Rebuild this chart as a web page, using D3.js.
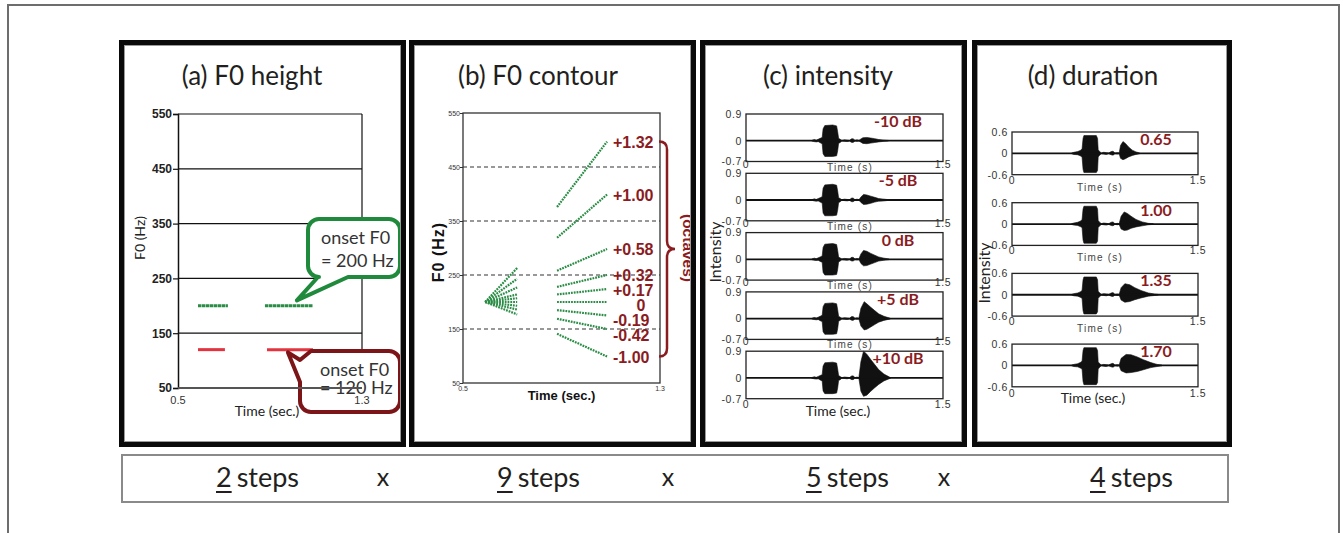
<!DOCTYPE html>
<html>
<head>
<meta charset="utf-8">
<script src="https://cdn.jsdelivr.net/npm/d3@7"></script>
<style>
  body { margin: 0; background: #fff; }
  text { font-family: Lato, "Noto Sans", sans-serif; }
  .arial { font-family: "Liberation Sans", Arial, sans-serif; }
</style>
</head>
<body>
<div id="chart"></div>
<script>
var width = 1343, height = 533;

var titles = ["(a) F0 height", "(b) F0 contour", "(c) intensity", "(d) duration"];

// (a) onset F0 and the two syllables' time spans (sec.)
var f0Ticks = [50, 150, 250, 350, 450, 550];
var onsetF0 = [200, 120];
var heightSegments = [
    [[0.587, 0.717], [0.878, 1.087]],
    [[0.587, 0.704], [0.887, 1.087]]
];

// (b) F0 contours, Hz
var octaveLabels = ["+1.32", "+1.00", "+0.58", "+0.32", "+0.17", "0", "-0.19", "-0.42", "-1.00"];
var fanTime = [0.59, 0.72];
var fanEndHz = [263, 243, 227, 214, 207, 200, 193, 186, 177];
var stressTime = [0.882, 1.085];
var stressStartHz = [376, 319, 258, 228, 214, 200, 185, 169, 141];
var stressEndHz = [497, 399, 298, 250, 224, 200, 175, 150, 99];

// (c) intensity waveforms: [time, upper envelope, lower envelope]
var dbLabels = ["-10 dB", "-5 dB", "0 dB", "+5 dB", "+10 dB"];
var syl1C = [[0.50, 0.01, -0.01], [0.52, 0.04, -0.03], [0.535, 0.02, -0.04], [0.55, 0.05, -0.03],
    [0.565, 0.08, -0.07], [0.58, 0.11, -0.10], [0.587, 0.40, -0.44], [0.60, 0.51, -0.53],
    [0.66, 0.53, -0.53], [0.69, 0.50, -0.51], [0.698, 0.30, -0.34], [0.705, 0.08, -0.09],
    [0.72, 0.04, -0.05], [0.73, 0.01, -0.01]];
var gapC = [[0.73, 0.01, -0.01], [0.75, 0.03, -0.02], [0.77, 0.02, -0.03], [0.79, 0.01, -0.01],
    [0.80, 0.06, -0.05], [0.815, 0.07, -0.06], [0.83, 0.01, -0.01], [0.845, 0.03, -0.02],
    [0.86, 0.01, -0.01]];
var syl2C = [
    [[0.86, 0.01, -0.01], [0.875, 0.06, -0.05], [0.89, 0.10, -0.09], [0.92, 0.11, -0.10], [0.95, 0.09, -0.08],
     [0.98, 0.07, -0.06], [1.01, 0.04, -0.04], [1.05, 0.02, -0.02], [1.085, 0.01, -0.01]],
    [[0.86, 0.01, -0.01], [0.875, 0.10, -0.08], [0.895, 0.19, -0.15], [0.92, 0.17, -0.14], [0.95, 0.13, -0.11],
     [0.98, 0.09, -0.07], [1.01, 0.05, -0.04], [1.05, 0.03, -0.03], [1.09, 0.01, -0.01]],
    [[0.86, 0.02, -0.01], [0.875, 0.18, -0.14], [0.895, 0.30, -0.22], [0.92, 0.27, -0.21], [0.95, 0.20, -0.16],
     [0.98, 0.14, -0.11], [1.01, 0.08, -0.06], [1.05, 0.04, -0.03], [1.09, 0.01, -0.01]],
    [[0.86, 0.03, -0.02], [0.875, 0.35, -0.25], [0.90, 0.57, -0.38], [0.92, 0.50, -0.36], [0.95, 0.38, -0.28],
     [0.98, 0.27, -0.20], [1.01, 0.16, -0.12], [1.05, 0.08, -0.06], [1.10, 0.01, -0.01]],
    [[0.86, 0.04, -0.03], [0.875, 0.55, -0.45], [0.895, 0.90, -0.62], [0.92, 0.80, -0.58], [0.95, 0.62, -0.45],
     [0.98, 0.45, -0.33], [1.01, 0.28, -0.22], [1.05, 0.13, -0.10], [1.10, 0.01, -0.01]]
];

// (d) duration waveforms
var durLabels = ["0.65", "1.00", "1.35", "1.70"];
var syl1D = [[0.48, 0.01, -0.01], [0.50, 0.03, -0.03], [0.53, 0.05, -0.04], [0.55, 0.08, -0.07],
    [0.565, 0.12, -0.10], [0.573, 0.42, -0.45], [0.58, 0.50, -0.54], [0.68, 0.50, -0.54],
    [0.69, 0.42, -0.48], [0.695, 0.10, -0.10], [0.71, 0.04, -0.04], [0.72, 0.01, -0.01]];
var gapD = [[0.72, 0.01, -0.01], [0.74, 0.03, -0.02], [0.76, 0.02, -0.03], [0.78, 0.01, -0.01],
    [0.80, 0.05, -0.04], [0.815, 0.06, -0.05], [0.83, 0.01, -0.01], [0.85, 0.02, -0.02],
    [0.865, 0.01, -0.01]];
var syl2D = [
    [[0.865, 0.02, -0.02], [0.875, 0.22, -0.14], [0.895, 0.33, -0.18], [0.915, 0.28, -0.15], [0.94, 0.18, -0.10],
     [0.97, 0.09, -0.06], [1.00, 0.04, -0.03], [1.03, 0.01, -0.01]],
    [[0.865, 0.02, -0.02], [0.88, 0.22, -0.14], [0.905, 0.34, -0.18], [0.93, 0.30, -0.17], [0.96, 0.22, -0.12],
     [1.00, 0.13, -0.08], [1.05, 0.06, -0.05], [1.10, 0.02, -0.02], [1.14, 0.01, -0.01]],
    [[0.865, 0.02, -0.02], [0.88, 0.20, -0.15], [0.91, 0.31, -0.21], [0.95, 0.28, -0.19], [0.99, 0.20, -0.14],
     [1.04, 0.12, -0.09], [1.10, 0.05, -0.04], [1.15, 0.02, -0.02], [1.18, 0.01, -0.01]],
    [[0.865, 0.02, -0.02], [0.88, 0.20, -0.15], [0.92, 0.31, -0.21], [0.96, 0.30, -0.20], [1.01, 0.24, -0.17],
     [1.06, 0.16, -0.12], [1.12, 0.08, -0.06], [1.17, 0.03, -0.03], [1.21, 0.01, -0.01]]
];

var darkRed = "#8a1c1f", green = "#2a8c45";

var svg = d3.select("#chart").append("svg")
    .attr("width", width)
    .attr("height", height);

svg.append("rect").attr("width", width).attr("height", height).attr("fill", "#fff");

// outer frame
svg.append("path")
    .attr("d", "M8,533V5H1339V533")
    .attr("fill", "none")
    .attr("stroke", "#6d6d6d")
    .attr("stroke-width", 2);

var panels = [
    {x: 119, w: 287, cx: 252},
    {x: 409, w: 287, cx: 538},
    {x: 700, w: 267, cx: 828},
    {x: 972, w: 260, cx: 1093}
];

svg.selectAll("text.title")
    .data(titles)
    .enter().append("text")
    .attr("class", "title")
    .attr("x", function(d, i) { return panels[i].cx; })
    .attr("y", 85)
    .attr("text-anchor", "middle")
    .attr("font-size", 26)
    .attr("fill", "#231f20")
    .text(function(d) { return d; });

//---------------- (a) F0 height
var xA = d3.scaleLinear().domain([0.5, 1.3]).range([178, 362]);
var yA = d3.scaleLinear().domain([50, 550]).range([388, 114]);
var gA = svg.append("g");

gA.selectAll("line.grid")
    .data(f0Ticks.slice(1))
    .enter().append("line")
    .attr("x1", xA(0.5)).attr("x2", xA(1.3))
    .attr("y1", function(d) { return yA(d); })
    .attr("y2", function(d) { return yA(d); })
    .attr("stroke", "#111")
    .attr("stroke-width", 1.2);

gA.append("line")
    .attr("x1", xA(1.3)).attr("x2", xA(1.3))
    .attr("y1", yA(50)).attr("y2", yA(550))
    .attr("stroke", "#111").attr("stroke-width", 1.2);

var yAxisA = gA.append("g")
    .attr("transform", "translate(" + xA(0.5) + ",0)")
    .call(d3.axisLeft(yA).tickValues(f0Ticks).tickSize(5).tickPadding(1).tickFormat(d3.format("d")));
yAxisA.select(".domain").attr("stroke", "#111").attr("stroke-width", 1.5);
yAxisA.selectAll(".tick line").attr("stroke", "#111").attr("stroke-width", 1.2);
yAxisA.selectAll("text")
    .attr("class", "arial")
    .attr("font-size", 12)
    .attr("font-weight", "bold")
    .attr("fill", "#222");

heightSegments.forEach(function(segs, i) {
    gA.selectAll("line.seg" + i)
        .data(segs)
        .enter().append("line")
        .attr("x1", function(d) { return xA(d[0]); })
        .attr("x2", function(d) { return xA(d[1]); })
        .attr("y1", yA(onsetF0[i]))
        .attr("y2", yA(onsetF0[i]))
        .attr("stroke", i === 0 ? green : "#e2333f")
        .attr("stroke-width", 3)
        .attr("stroke-dasharray", i === 0 ? "3.5,0.5" : null);
});

gA.append("text")
    .attr("transform", "translate(145,238) rotate(-90)")
    .attr("text-anchor", "middle")
    .attr("font-size", 14)
    .attr("fill", "#222")
    .text("F0 (Hz)");

// speech-bubble callouts
function bubbleBottom(b, p1, p2, tip) {
    var r = b.r;
    return "M" + (b.x + r) + "," + b.y + "H" + (b.x + b.w - r) +
        "A" + r + "," + r + " 0 0 1 " + (b.x + b.w) + "," + (b.y + r) +
        "V" + (b.y + b.h - r) +
        "A" + r + "," + r + " 0 0 1 " + (b.x + b.w - r) + "," + (b.y + b.h) +
        "H" + p2 + "L" + tip[0] + "," + tip[1] + "L" + p1 + "," + (b.y + b.h) +
        "H" + (b.x + r) +
        "A" + r + "," + r + " 0 0 1 " + b.x + "," + (b.y + b.h - r) +
        "V" + (b.y + r) +
        "A" + r + "," + r + " 0 0 1 " + (b.x + r) + "," + b.y + "Z";
}
function bubbleLeft(b, p1, p2, tip) {
    var r = b.r;
    return "M" + (b.x + r) + "," + b.y + "H" + (b.x + b.w - r) +
        "A" + r + "," + r + " 0 0 1 " + (b.x + b.w) + "," + (b.y + r) +
        "V" + (b.y + b.h - r) +
        "A" + r + "," + r + " 0 0 1 " + (b.x + b.w - r) + "," + (b.y + b.h) +
        "H" + (b.x + r) +
        "A" + r + "," + r + " 0 0 1 " + b.x + "," + (b.y + b.h - r) +
        "V" + p2 + "L" + tip[0] + "," + tip[1] + "L" + b.x + "," + p1 +
        "Z";
}

var greenBox = {x: 308, y: 219, w: 92, h: 58, r: 11};
gA.append("path")
    .attr("d", bubbleBottom(greenBox, 318, 348, [xA(1.017), yA(210)]))
    .attr("fill", "#fff")
    .attr("stroke", "#1f8a3c")
    .attr("stroke-width", 4)
    .attr("stroke-linejoin", "round");
gA.append("text").attr("x", 321).attr("y", 244).attr("font-size", 18).attr("fill", "#333").text("onset F0");
gA.append("text").attr("x", 321).attr("y", 267).attr("font-size", 18).attr("fill", "#333").text("= " + onsetF0[0] + " Hz");

var redBox = {x: 300, y: 351, w: 100, h: 61, r: 11};
gA.append("path")
    .attr("d", bubbleLeft(redBox, 360, 382, [xA(0.978), yA(115)]))
    .attr("fill", "#fff")
    .attr("stroke", "#7b1518")
    .attr("stroke-width", 4)
    .attr("stroke-linejoin", "round");
gA.append("text").attr("x", 320).attr("y", 376).attr("font-size", 18).attr("fill", "#333").text("onset F0");
gA.append("text").attr("x", 320).attr("y", 394).attr("font-size", 18).attr("fill", "#333").text("= " + onsetF0[1] + " Hz");

// bottom line and x labels sit over the callout
gA.append("line")
    .attr("x1", xA(0.5)).attr("x2", xA(1.3))
    .attr("y1", yA(50)).attr("y2", yA(50))
    .attr("stroke", "#555").attr("stroke-width", 2);
gA.selectAll("text.xt")
    .data([0.5, 1.3])
    .enter().append("text")
    .attr("class", "arial")
    .attr("x", function(d) { return xA(d); })
    .attr("y", 404)
    .attr("text-anchor", "middle")
    .attr("font-size", 11)
    .attr("fill", "#333")
    .text(function(d) { return d; });
gA.append("text")
    .attr("x", 267).attr("y", 416)
    .attr("text-anchor", "middle")
    .attr("font-size", 14)
    .attr("fill", "#222")
    .text("Time (sec.)");

//---------------- (b) F0 contour
var xB = d3.scaleLinear().domain([0.5, 1.3]).range([463, 660]);
var yB = d3.scaleLinear().domain([50, 550]).range([383, 113]);
var gB = svg.append("g");

gB.append("rect")
    .attr("x", xB(0.5)).attr("y", yB(550))
    .attr("width", xB(1.3) - xB(0.5)).attr("height", yB(50) - yB(550))
    .attr("fill", "none").attr("stroke", "#333").attr("stroke-width", 1.3);

gB.selectAll("line.dash")
    .data(f0Ticks.slice(1, -1))
    .enter().append("line")
    .attr("x1", xB(0.5)).attr("x2", xB(1.3))
    .attr("y1", function(d) { return yB(d); })
    .attr("y2", function(d) { return yB(d); })
    .attr("stroke", "#333")
    .attr("stroke-width", 1.1)
    .attr("stroke-dasharray", "4,3");

var yAxisB = gB.append("g")
    .attr("transform", "translate(" + xB(0.5) + ",0)")
    .call(d3.axisLeft(yB).tickValues(f0Ticks).tickSize(3).tickPadding(0).tickFormat(d3.format("d")));
yAxisB.select(".domain").remove();
yAxisB.selectAll(".tick line").attr("stroke", "#333");
yAxisB.selectAll("text").attr("class", "arial").attr("font-size", 7).attr("fill", "#333");

gB.selectAll("text.xt")
    .data([0.5, 1.3])
    .enter().append("text")
    .attr("class", "arial")
    .attr("x", function(d) { return xB(d); })
    .attr("y", 391)
    .attr("text-anchor", "middle")
    .attr("font-size", 7)
    .attr("fill", "#333")
    .text(function(d) { return d; });

gB.append("text")
    .attr("class", "arial")
    .attr("x", xB(0.9)).attr("y", 400)
    .attr("text-anchor", "middle")
    .attr("font-size", 13)
    .attr("font-weight", "bold")
    .attr("fill", "#111")
    .text("Time (sec.)");

gB.append("text")
    .attr("class", "arial")
    .attr("transform", "translate(444,252) rotate(-90)")
    .attr("text-anchor", "middle")
    .attr("font-size", 16)
    .attr("font-weight", "bold")
    .attr("letter-spacing", 1)
    .attr("fill", "#111")
    .text("F0 (Hz)");

var contourLine = d3.line()
    .x(function(d) { return xB(d[0]); })
    .y(function(d) { return yB(d[1]); });

fanEndHz.forEach(function(end, i) {
    gB.append("path")
        .datum([[fanTime[0], onsetF0[0]], [fanTime[1], end]])
        .attr("d", contourLine)
        .attr("fill", "none")
        .attr("stroke", green)
        .attr("stroke-width", 2.2)
        .attr("stroke-dasharray", "1.8,1");
    gB.append("path")
        .datum([[stressTime[0], stressStartHz[i]], [stressTime[1], stressEndHz[i]]])
        .attr("d", contourLine)
        .attr("fill", "none")
        .attr("stroke", green)
        .attr("stroke-width", 2.2)
        .attr("stroke-dasharray", "1.8,1");
});

// octave labels next to contour ends, pushed apart so they do not overlap
var labelY = [];
stressEndHz.forEach(function(end, i) {
    var y = yB(end) + 6;
    if (i > 0) y = Math.max(y, labelY[i - 1] + 15);
    labelY.push(y);
});
gB.selectAll("text.oct")
    .data(octaveLabels)
    .enter().append("text")
    .attr("class", "arial")
    .attr("x", function(d) { return d === "0" ? 641 : 613; })
    .attr("y", function(d, i) { return labelY[i]; })
    .attr("text-anchor", function(d) { return d === "0" ? "middle" : "start"; })
    .attr("font-size", 16)
    .attr("font-weight", "bold")
    .attr("fill", darkRed)
    .text(function(d) { return d; });

var bTop = yB(stressEndHz[0]), bBot = yB(stressEndHz[stressEndHz.length - 1]), bMid = (bTop + bBot) / 2;
gB.append("path")
    .attr("d", "M659," + bTop + "Q667," + bTop + " 667," + (bTop + 8) + "V" + (bMid - 8) +
        "Q667," + bMid + " 675," + bMid + "Q667," + bMid + " 667," + (bMid + 8) +
        "V" + (bBot - 8) + "Q667," + bBot + " 659," + bBot)
    .attr("fill", "none")
    .attr("stroke", darkRed)
    .attr("stroke-width", 2.5);

gB.append("text")
    .attr("class", "arial")
    .attr("transform", "translate(683,248) rotate(90)")
    .attr("text-anchor", "middle")
    .attr("font-size", 15.5)
    .attr("font-weight", "bold")
    .attr("fill", darkRed)
    .text("(octaves)");

//---------------- (c) and (d) waveforms
function drawWaves(cfg) {
    var x = d3.scaleLinear().domain([0, 1.5]).range([cfg.x0, cfg.x1]);
    cfg.labels.forEach(function(lab, i) {
        var top = cfg.top0 + i * cfg.step, bottom = top + cfg.h;
        var y = d3.scaleLinear().domain(cfg.yDomain).range([bottom, top]);
        var g = svg.append("g");
        var area = d3.area()
            .x(function(d) { return x(d[0]); })
            .y0(function(d) { return y(d[2]); })
            .y1(function(d) { return y(d[1]); });

        [cfg.syl1, cfg.gap, cfg.syl2[i]].forEach(function(env) {
            g.append("path")
                .datum(env)
                .attr("d", area)
                .attr("fill", "#111")
                .attr("stroke", "#111")
                .attr("stroke-width", 0.6);
        });

        g.append("line")
            .attr("x1", x(0)).attr("x2", x(1.5))
            .attr("y1", y(0)).attr("y2", y(0))
            .attr("stroke", "#111").attr("stroke-width", 1.8);

        g.append("rect")
            .attr("x", x(0)).attr("y", top)
            .attr("width", x(1.5) - x(0)).attr("height", cfg.h)
            .attr("fill", "none").attr("stroke", "#222").attr("stroke-width", 1.3);

        var ya = g.append("g")
            .attr("transform", "translate(" + x(0) + ",0)")
            .call(d3.axisLeft(y).tickValues([cfg.yDomain[1], 0, cfg.yDomain[0]]).tickSize(0).tickPadding(4)
                .tickFormat(function(d) { return d === 0 ? "0" : d; }));
        ya.select(".domain").remove();
        ya.selectAll("text")
            .attr("class", "arial")
            .attr("font-size", 10.5)
            .attr("letter-spacing", 0.6)
            .attr("fill", "#333");

        var last = i === cfg.labels.length - 1;
        g.selectAll("text.xt")
            .data([0, 1.5])
            .enter().append("text")
            .attr("class", "arial")
            .attr("x", function(d) { return x(d); })
            .attr("y", bottom + (last ? cfg.lastTick : cfg.tickDy))
            .attr("text-anchor", "middle")
            .attr("font-size", 10.5)
            .attr("letter-spacing", 0.6)
            .attr("fill", "#333")
            .text(function(d) { return d; });

        if (last) {
            g.append("text")
                .attr("x", cfg.lastTimeX).attr("y", bottom + cfg.lastTimeDy)
                .attr("text-anchor", "middle")
                .attr("font-size", 14)
                .attr("fill", "#222")
                .text("Time (sec.)");
        } else {
            g.append("text")
                .attr("class", "arial")
                .attr("x", cfg.timeX).attr("y", bottom + cfg.timeDy)
                .attr("text-anchor", "middle")
                .attr("font-size", 10)
                .attr("letter-spacing", 1.2)
                .attr("fill", "#444")
                .text("Time (s)");
        }

        g.append("text")
            .attr("x", cfg.labelX).attr("y", top + 13)
            .attr("text-anchor", "middle")
            .attr("font-size", 16)
            .attr("font-weight", "bold")
            .attr("fill", darkRed)
            .text(lab);
    });

    svg.append("text")
        .attr("transform", "translate(" + cfg.ylabX + "," + cfg.ylabY + ") rotate(-90)")
        .attr("text-anchor", "middle")
        .attr("font-size", 16)
        .attr("fill", "#222")
        .text("Intensity");
}

drawWaves({
    labels: dbLabels, syl1: syl1C, gap: gapC, syl2: syl2C,
    x0: 746, x1: 943, top0: 114, step: 59.3, h: 47.5, yDomain: [-0.7, 0.9],
    tickDy: 6, timeDy: 9, timeX: 850, lastTick: 9, lastTimeDy: 17, lastTimeX: 838,
    labelX: 898, ylabX: 721, ylabY: 252
});

drawWaves({
    labels: durLabels, syl1: syl1D, gap: gapD, syl2: syl2D,
    x0: 1012, x1: 1198, top0: 132, step: 70.7, h: 42.7, yDomain: [-0.6, 0.6],
    tickDy: 9, timeDy: 16, timeX: 1100, lastTick: 10, lastTimeDy: 16, lastTimeX: 1093,
    labelX: 1156, ylabX: 990, ylabY: 273
});

//---------------- panel frames (drawn last so they sit on top)
panels.forEach(function(p) {
    svg.append("rect")
        .attr("x", p.x + 2.5).attr("y", 42.5)
        .attr("width", p.w - 5).attr("height", 402)
        .attr("fill", "none")
        .attr("stroke", "#0a0a0a")
        .attr("stroke-width", 5);
    svg.append("rect")
        .attr("x", p.x + 5.5).attr("y", 45.5)
        .attr("width", p.w - 11).attr("height", 396)
        .attr("fill", "none")
        .attr("stroke", "#9a9a9a")
        .attr("stroke-width", 1);
});

//---------------- steps row
svg.append("rect")
    .attr("x", 122).attr("y", 455)
    .attr("width", 1106).attr("height", 47)
    .attr("fill", "#fff")
    .attr("stroke", "#8a8a8a")
    .attr("stroke-width", 2);

var stepCounts = [heightSegments.length, octaveLabels.length, dbLabels.length, durLabels.length];
var stepX = [216, 497, 806, 1090];
var crossX = [383, 668, 944];

stepCounts.forEach(function(n, i) {
    var digit = svg.append("text")
        .attr("x", stepX[i]).attr("y", 487)
        .attr("font-size", 27)
        .attr("fill", "#231f20")
        .text(n);
    var w = digit.node().getComputedTextLength();
    svg.append("line")
        .attr("x1", stepX[i]).attr("x2", stepX[i] + w)
        .attr("y1", 492).attr("y2", 492)
        .attr("stroke", "#231f20").attr("stroke-width", 2);
    svg.append("text")
        .attr("x", stepX[i] + w + 5).attr("y", 487)
        .attr("font-size", 27)
        .attr("fill", "#231f20")
        .text("steps");
});

svg.selectAll("text.cross")
    .data(crossX)
    .enter().append("text")
    .attr("class", "cross")
    .attr("x", function(d) { return d; })
    .attr("y", 486)
    .attr("text-anchor", "middle")
    .attr("font-size", 25)
    .attr("fill", "#231f20")
    .text("x");
</script>
</body>
</html>
